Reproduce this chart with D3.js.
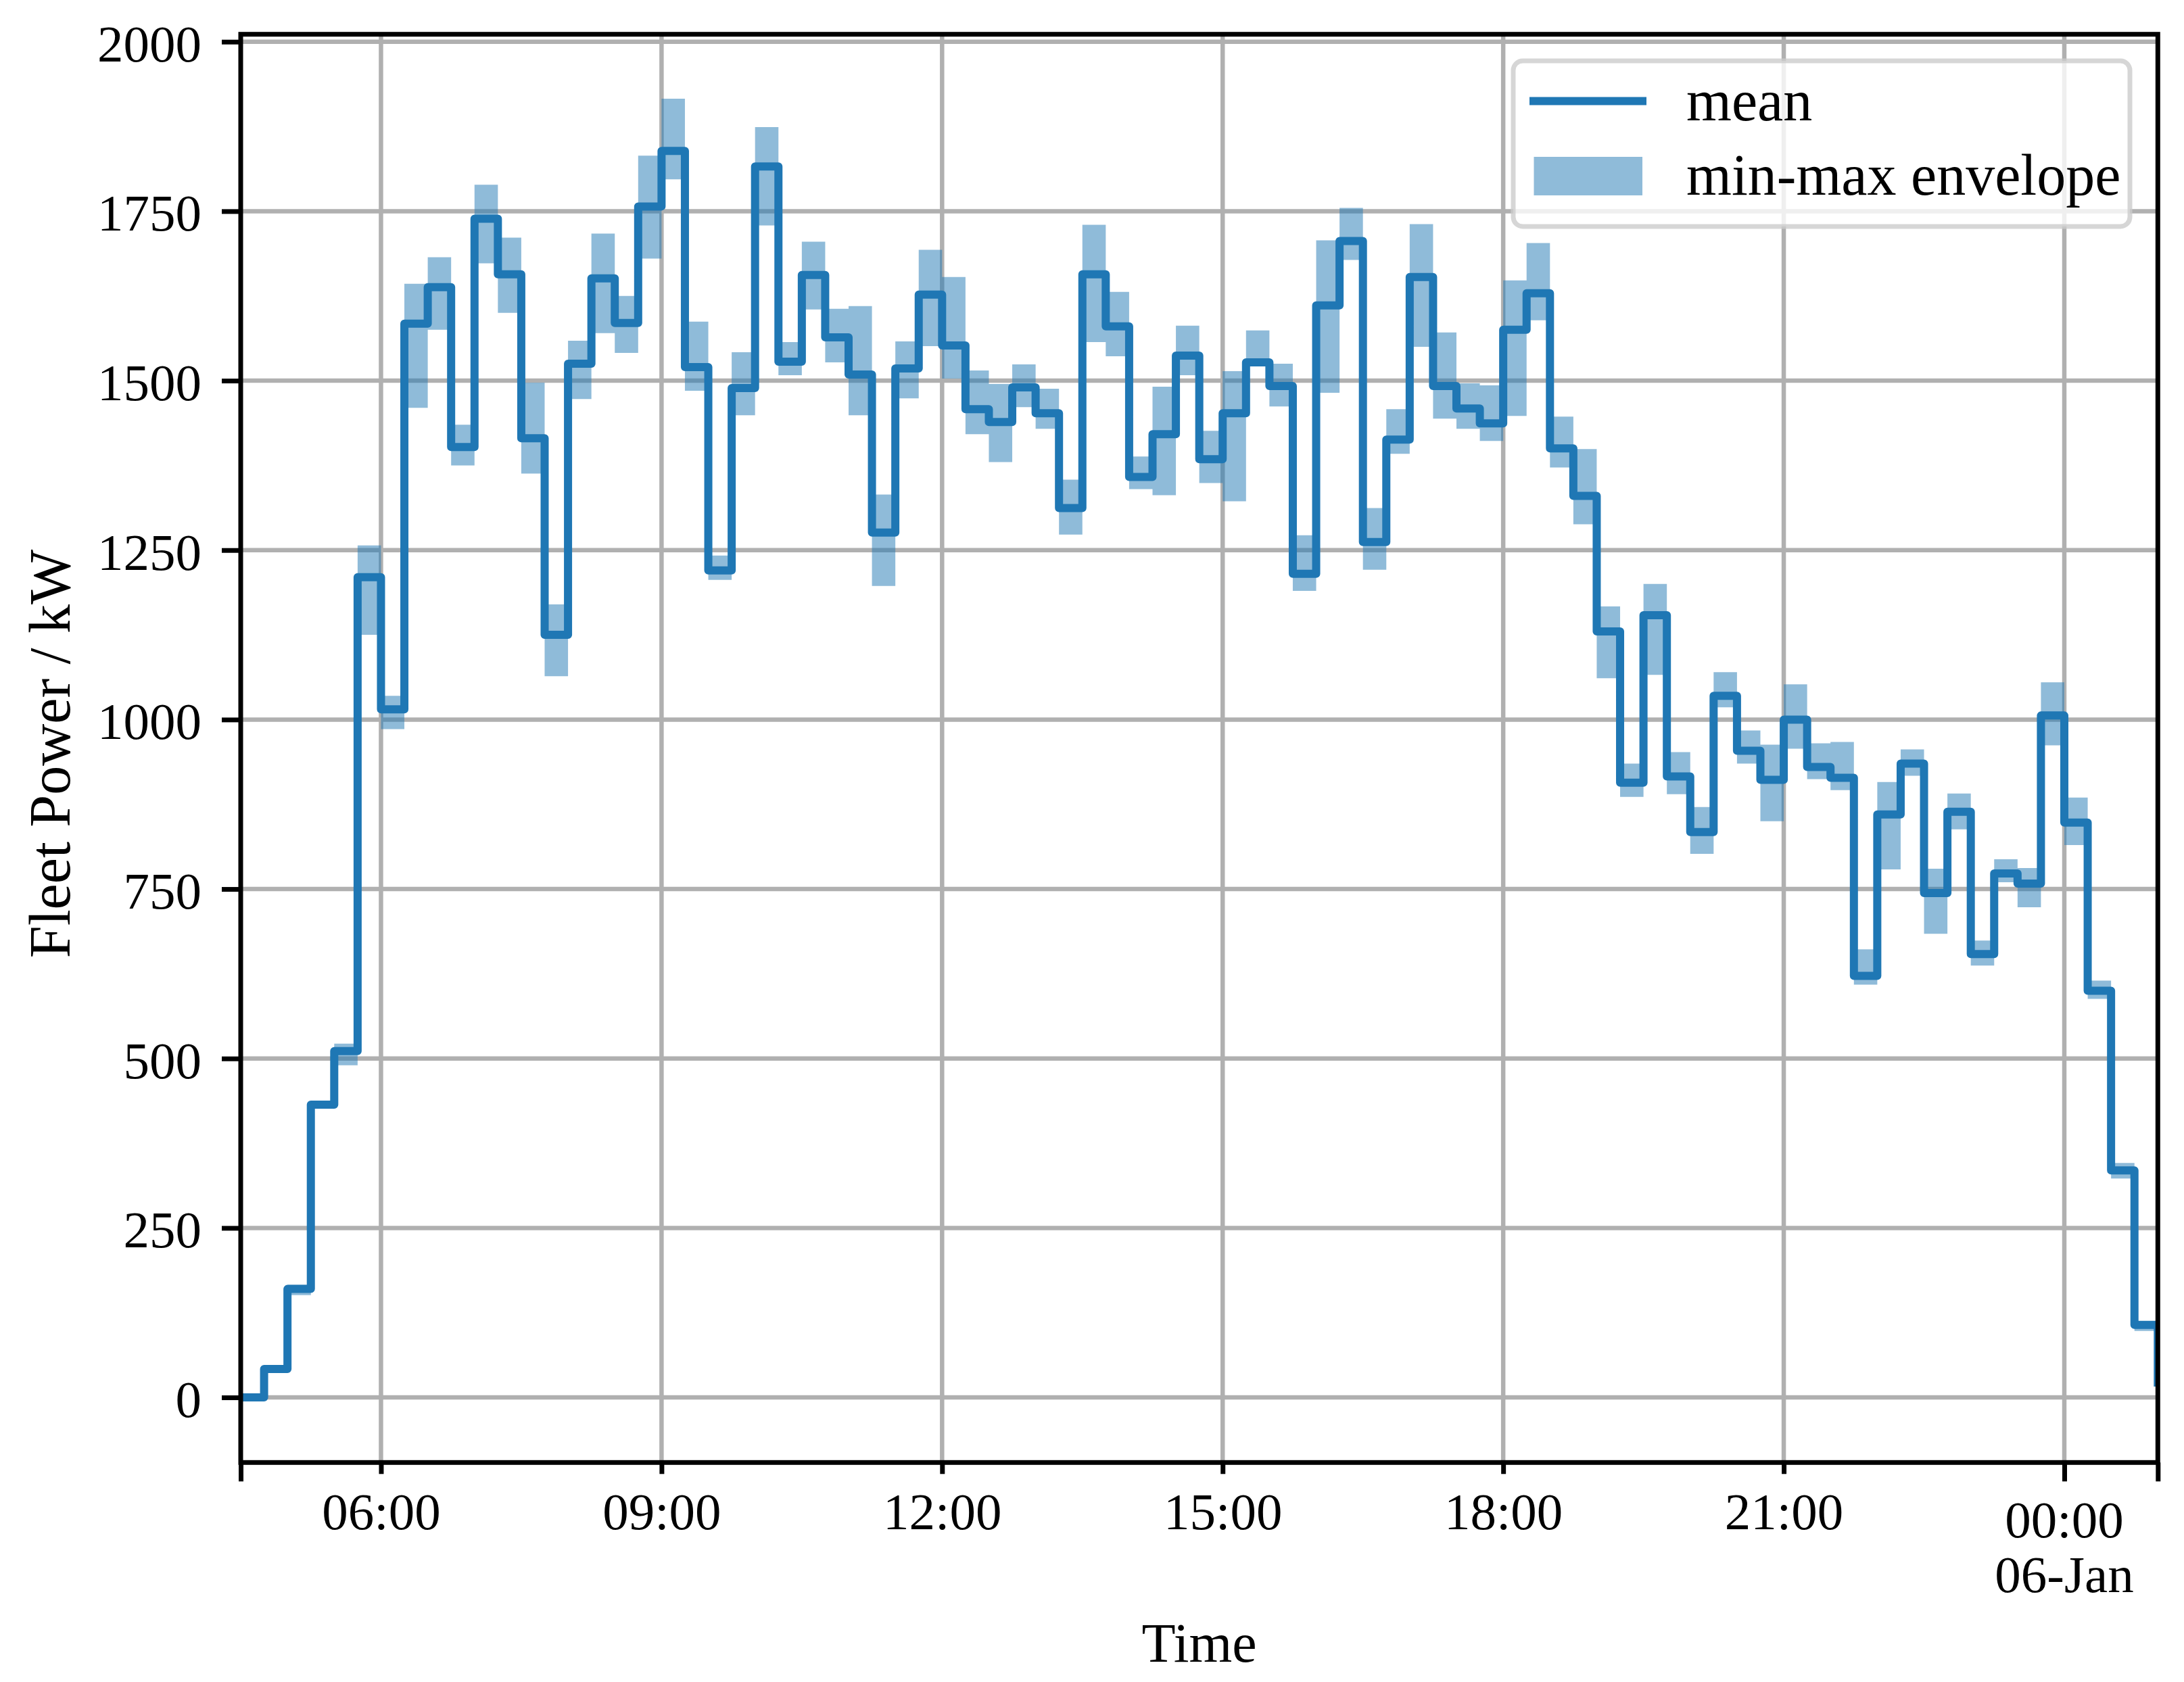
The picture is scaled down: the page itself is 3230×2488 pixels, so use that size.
<!DOCTYPE html>
<html>
<head>
<meta charset="utf-8">
<script src="https://cdn.jsdelivr.net/npm/d3@7"></script>
<style>
  html, body { margin: 0; padding: 0; background: #ffffff; }
  svg { display: block; }
  text { font-family: "Liberation Serif", "DejaVu Serif", serif; fill: #000; }
</style>
</head>
<body>
<svg id="chart" width="3230" height="2488"></svg>
<script>
// ---------------- data (15-minute steps starting 05-Jan 04:30) ----------------
const startTime = "2025-01-05T04:30:00Z";
const stepMinutes = 15;
const endTime = "2025-01-06T01:00:00Z";

const meanKW = [0, 42, 160, 432, 511, 1210, 1015, 1584, 1638, 1402,
  1739, 1657, 1415, 1125, 1525, 1651, 1585, 1757, 1839, 1520,
  1220, 1489, 1816, 1528, 1656, 1564, 1509, 1276, 1518, 1627,
  1552, 1458, 1439, 1490, 1452, 1312, 1657, 1580, 1358, 1421,
  1537, 1384, 1452, 1527, 1492, 1215, 1611, 1706, 1262, 1413,
  1653, 1492, 1459, 1437, 1575, 1629, 1400, 1330, 1130, 907,
  1154, 916, 834, 1035, 954, 911, 1000, 930, 914, 622,
  860, 935, 744, 864, 654, 773, 758, 1006, 848, 600,
  335, 107, 22];

const minKW = [0, 38, 151, 427, 490, 1125, 986, 1460, 1575, 1375,
  1673, 1600, 1363, 1064, 1473, 1570, 1541, 1680, 1797, 1485,
  1206, 1449, 1729, 1508, 1605, 1527, 1449, 1197, 1474, 1551,
  1503, 1421, 1380, 1461, 1429, 1273, 1557, 1536, 1340, 1331,
  1508, 1349, 1322, 1521, 1462, 1190, 1482, 1678, 1221, 1392,
  1550, 1444, 1429, 1411, 1448, 1589, 1372, 1288, 1061, 886,
  1066, 890, 802, 1018, 935, 850, 957, 912, 896, 609,
  779, 917, 684, 838, 637, 760, 723, 962, 815, 588,
  323, 98, 22];

const maxKW = [0, 46, 166, 437, 522, 1257, 1035, 1643, 1682, 1435,
  1789, 1711, 1497, 1170, 1559, 1717, 1625, 1832, 1916, 1587,
  1242, 1542, 1874, 1557, 1705, 1606, 1610, 1332, 1558, 1693,
  1653, 1515, 1495, 1524, 1488, 1354, 1730, 1631, 1388, 1491,
  1581, 1426, 1514, 1574, 1525, 1272, 1707, 1755, 1312, 1458,
  1731, 1571, 1496, 1493, 1648, 1703, 1447, 1399, 1167, 935,
  1200, 952, 871, 1070, 984, 963, 1052, 965, 967, 661,
  908, 956, 780, 891, 674, 794, 781, 1055, 885, 615,
  346, 112, 22];

const yTickValues = [0, 250, 500, 750, 1000, 1250, 1500, 1750, 2000];
const xMinorTickLabels = ["06:00", "09:00", "12:00", "15:00", "18:00", "21:00"];
const xMajorTickLabel = ["00:00", "06-Jan"];
const yDomain = [-96, 2011];

const seriesLabels = ["mean", "min-max envelope"];
const axisLabels = { x: "Time", y: "Fleet Power / kW" };

// ---------------- layout ----------------
const M = { left: 356, right: 3191.3, top: 50.7, bottom: 2163.3 };
const blue = "#1f77b4";
const gridColor = "#b0b0b0";

const t0 = new Date(startTime);
const tEnd = new Date(endTime);
const times = meanKW.map((_, i) => new Date(t0.getTime() + i * stepMinutes * 60000));
const data = meanKW.map((m, i) => ({ t: times[i], mean: m, lo: minKW[i], hi: maxKW[i] }));

const x = d3.scaleUtc().domain([t0, tEnd]).range([M.left, M.right]);
const y = d3.scaleLinear().domain(yDomain).range([M.bottom, M.top]);

const parseHM = (s, dayOffset) => {
  const [h, m] = s.split(":").map(Number);
  return new Date(Date.UTC(2025, 0, 5 + dayOffset, h, m));
};
const minorTicks = xMinorTickLabels.map(s => parseHM(s, 0));
const midnight = parseHM(xMajorTickLabel[0], 1);
const majorTicks = [t0, midnight, tEnd];

const svg = d3.select("#chart");
svg.append("rect").attr("width", 3230).attr("height", 2488).attr("fill", "#fff");

svg.append("defs").append("clipPath").attr("id", "plotclip")
  .append("rect")
  .attr("x", M.left).attr("y", M.top)
  .attr("width", M.right - M.left).attr("height", M.bottom - M.top);

// ---------------- grid ----------------
const grid = svg.append("g").attr("clip-path", "url(#plotclip)");
grid.selectAll("line.hg").data(yTickValues).join("line")
  .attr("x1", M.left).attr("x2", M.right)
  .attr("y1", d => y(d)).attr("y2", d => y(d))
  .attr("stroke", gridColor).attr("stroke-width", 6.5);
grid.selectAll("line.vg").data(minorTicks.concat([midnight])).join("line")
  .attr("x1", d => x(d)).attr("x2", d => x(d))
  .attr("y1", M.top).attr("y2", M.bottom)
  .attr("stroke", gridColor).attr("stroke-width", 6.5);

// ---------------- envelope + mean line ----------------
const plot = svg.append("g").attr("clip-path", "url(#plotclip)");
const area = d3.area()
  .x(d => x(d.t)).y0(d => y(d.lo)).y1(d => y(d.hi))
  .curve(d3.curveStepAfter);
plot.append("path").datum(data)
  .attr("d", area)
  .attr("fill", blue).attr("fill-opacity", 0.5).attr("stroke", "none");

const line = d3.line().x(d => x(d.t)).y(d => y(d.mean)).curve(d3.curveStepAfter);
plot.append("path").datum(data)
  .attr("d", line)
  .attr("fill", "none").attr("stroke", blue).attr("stroke-width", 12)
  .attr("stroke-linejoin", "round").attr("stroke-linecap", "square");

// ---------------- axes ----------------
const fsTick = 77;
const yAxis = d3.axisLeft(y).tickValues(yTickValues).tickSize(28).tickPadding(30)
  .tickFormat(d3.format("d"));
const gy = svg.append("g").attr("transform", `translate(${M.left},0)`).call(yAxis);
gy.select(".domain").remove();
gy.selectAll(".tick line").attr("stroke", "#000").attr("stroke-width", 7);
gy.selectAll(".tick text").attr("font-size", fsTick)
  .attr("font-family", "Liberation Serif").attr("dy", "0.37em");

const xMinorAxis = d3.axisBottom(x).tickValues(minorTicks).tickSize(17).tickPadding(27)
  .tickFormat((d, i) => xMinorTickLabels[i]);
const gxm = svg.append("g").attr("transform", `translate(0,${M.bottom})`).call(xMinorAxis);
gxm.select(".domain").remove();
gxm.selectAll(".tick line").attr("stroke", "#000").attr("stroke-width", 7);
gxm.selectAll(".tick text").attr("font-size", fsTick).attr("font-family", "Liberation Serif");

const xMajorAxis = d3.axisBottom(x).tickValues(majorTicks).tickSize(28).tickFormat(() => "");
const gxM = svg.append("g").attr("transform", `translate(0,${M.bottom})`).call(xMajorAxis);
gxM.select(".domain").remove();
gxM.selectAll(".tick line").attr("stroke", "#000").attr("stroke-width", 7);
const majText = svg.append("text")
  .attr("x", x(midnight)).attr("y", 2274)
  .attr("text-anchor", "middle").attr("font-size", fsTick);
majText.append("tspan").attr("x", x(midnight)).attr("y", 2274).text(xMajorTickLabel[0]);
majText.append("tspan").attr("x", x(midnight)).attr("y", 2355).text(xMajorTickLabel[1]);

// spines
svg.append("rect")
  .attr("x", M.left).attr("y", M.top)
  .attr("width", M.right - M.left).attr("height", M.bottom - M.top)
  .attr("fill", "none").attr("stroke", "#000").attr("stroke-width", 7)
  .attr("stroke-linejoin", "miter");

// axis labels
svg.append("text")
  .attr("x", (M.left + M.right) / 2).attr("y", 2458)
  .attr("text-anchor", "middle").attr("font-size", 82)
  .text(axisLabels.x);
svg.append("text")
  .attr("transform", `translate(103,${(M.top + M.bottom) / 2 + 8}) rotate(-90)`)
  .attr("text-anchor", "middle").attr("font-size", 86)
  .text(axisLabels.y);

// ---------------- legend ----------------
const lg = svg.append("g");
lg.append("rect")
  .attr("x", 2238).attr("y", 90).attr("width", 912).attr("height", 245)
  .attr("rx", 14).attr("ry", 14)
  .attr("fill", "#fff").attr("fill-opacity", 0.8)
  .attr("stroke", "#cccccc").attr("stroke-opacity", 0.8).attr("stroke-width", 7);
lg.append("line")
  .attr("x1", 2262).attr("x2", 2435).attr("y1", 149.5).attr("y2", 149.5)
  .attr("stroke", blue).attr("stroke-width", 12);
lg.append("rect")
  .attr("x", 2268.5).attr("y", 232).attr("width", 160.5).attr("height", 57)
  .attr("fill", blue).attr("fill-opacity", 0.5);
lg.append("text").attr("x", 2494).attr("y", 178).attr("font-size", 86).text(seriesLabels[0]);
lg.append("text").attr("x", 2494).attr("y", 288).attr("font-size", 86).text(seriesLabels[1]);
</script>
</body>
</html>
